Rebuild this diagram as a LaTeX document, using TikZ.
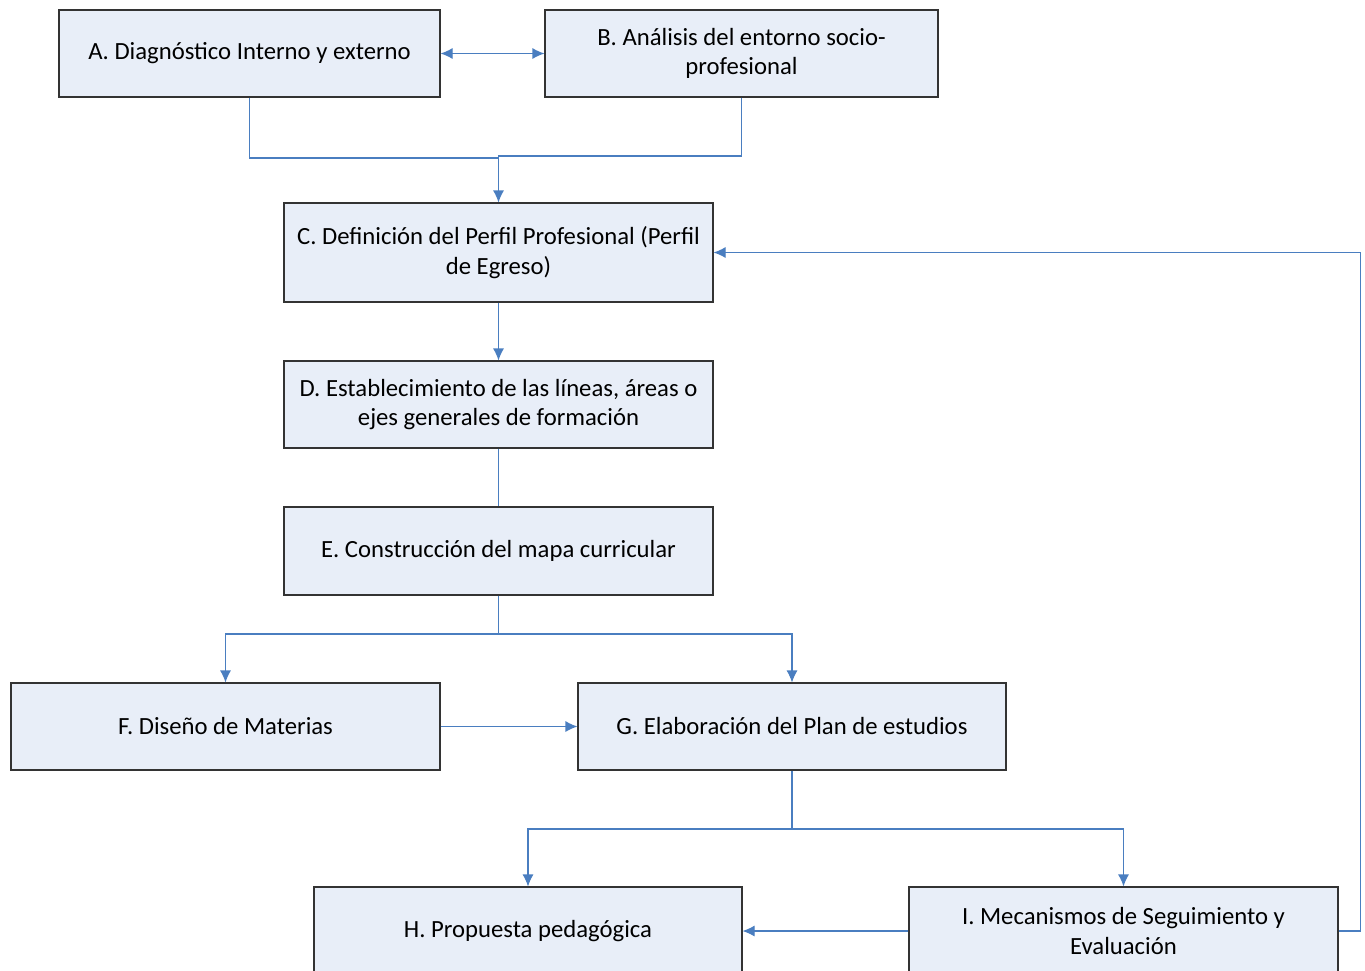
\documentclass[tikz,border=0pt]{standalone}
\usepackage{fontspec}
\setmainfont{Carlito}
\usetikzlibrary{arrows.meta,positioning}
\definecolor{boxfill}{RGB}{232,238,248}
\definecolor{linkblue}{RGB}{74,126,192}
\tikzset{stage/.style={draw=black!80, line width=1.1pt, fill=boxfill, align=center, inner sep=4pt,
    font=\fontsize{24.7}{29.4}\selectfont},
  link/.style={draw=linkblue, line width=1.1pt},
  tip/.style={-{Latex[length=12pt,width=11pt]}}}

\begin{document}
\begin{tikzpicture}[x=1pt,y=-1pt]
    \useasboundingbox (0,0) rectangle (1365,970);
    \clip (0,0) rectangle (1365,970);

    \node[stage, minimum width=381pt, minimum height=87pt](A) at (249.5, 53.5) {A. Diagnóstico Interno y externo};
    \node[stage, minimum width=393pt, minimum height=87pt](B) at (741.5, 53.5) {B. Análisis del entorno socio-\\profesional};
    \node[stage, minimum width=429pt, minimum height=99pt](C) at (498.5, 252.5) {C. Definición del Perfil Profesional (Perfil\\de Egreso)};
    \node[stage, minimum width=429pt, minimum height=87pt](D) at (498.5, 404.5) {D. Establecimiento de las líneas, áreas o\\ejes generales de formación};
    \node[stage, minimum width=429pt, minimum height=88pt](E) at (498.5, 551) {E. Construcción del mapa curricular};
    \node[stage, minimum width=429pt, minimum height=87pt](F) at (225.5, 726.5) {F. Diseño de Materias};
    \node[stage, minimum width=428pt, minimum height=87pt](G) at (792, 726.5) {G. Elaboración del Plan de estudios};
    \node[stage, minimum width=428pt, minimum height=88pt](H) at (528, 931) {H. Propuesta pedagógica};
    \node[stage, minimum width=429pt, minimum height=88pt](I) at (1123.5, 931) {I. Mecanismos de Seguimiento y\\Evaluación};

    \coordinate (jA) at (C.north |- 0, 158);
    \coordinate (jB) at (C.north |- 0, 156);
    \coordinate (jE) at (E.south |- 0, 634);
    \coordinate (jG) at (G.south |- 0, 829);

    \draw[link, {Latex[length=12pt,width=11pt]}-{Latex[length=12pt,width=11pt]}] (A.east) -- (B.west);
    \draw[link] (A.south) |- (jA);
    \draw[link, tip] (B.south) |- (jB) -- (C.north);
    \draw[link, tip] (C.south) -- (D.north);
    \draw[link] (D.south) -- (E.north);
    \draw[link, tip] (E.south) -- (jE) -| (F.north);
    \draw[link, tip] (jE) -| (G.north);
    \draw[link, tip] (F.east) -- (G.west);
    \draw[link, tip] (G.south) -- (jG) -| (H.north);
    \draw[link, tip] (jG) -| (I.north);
    \draw[link, tip] (I.west) -- (H.east);
    \draw[link, tip] (I.east) -- ++(22,0) |- (C.east);
\end{tikzpicture}
\end{document}
